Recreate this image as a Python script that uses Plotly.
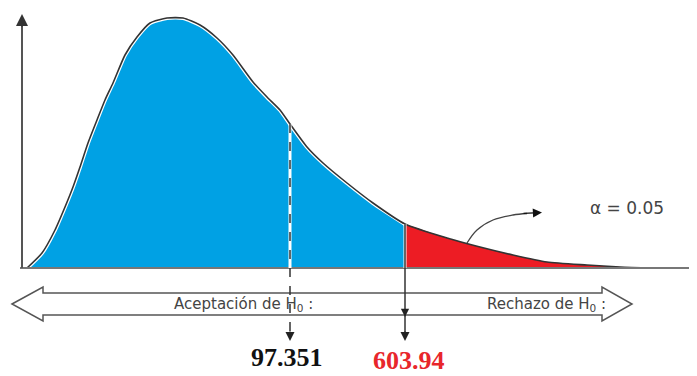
import plotly.graph_objects as go

# Density curve (x, height above baseline)
curve_x = [5, 20, 33, 43, 51, 58, 66, 75, 83, 91, 103, 115, 128, 145, 161, 178, 195,
           211, 231, 245, 258, 268, 285, 301, 325, 351, 383, 425, 458, 491, 525, 565, 598, 631]
curve_y = [0, 15, 38, 61, 81, 101, 125, 148, 168, 185, 213, 231, 245, 250, 250, 243, 230,
           213, 186, 171, 158, 144, 121, 105, 85, 65, 44, 30, 21, 13, 6, 3, 1, 0]

crit_x = [268, 383]
crit_top = [144, 44]
crit_labels = ["97.351", "603.94"]
alpha_label = "α = 0.05"
accept_label = "Aceptación de H<sub>0</sub> :"
reject_label = "Rechazo de H<sub>0</sub> :"

# curved pointer to the alpha label
ptr_x = [445, 455, 471, 491, 505]
ptr_y = [25, 38, 48, 53, 54.5]

BLUE = "#00A1E4"
RED = "#ED1C24"
LINE = "#333333"

cut = crit_x[1]
bx = [x for x in curve_x if x <= cut]
by = [y for x, y in zip(curve_x, curve_y) if x <= cut]
rx = [x for x in curve_x if x >= cut]
ry = [y for x, y in zip(curve_x, curve_y) if x >= cut]

fig = go.Figure()
fig.add_trace(go.Scatter(x=bx, y=by, fill="tozeroy", fillcolor=BLUE, mode="lines",
                         line=dict(color="white", width=4, shape="spline", smoothing=0.6),
                         hoverinfo="skip"))
fig.add_trace(go.Scatter(x=rx, y=ry, fill="tozeroy", fillcolor=RED, mode="lines",
                         line=dict(color="white", width=0, shape="spline", smoothing=0.6),
                         hoverinfo="skip"))
fig.add_trace(go.Scatter(x=curve_x, y=curve_y, mode="lines",
                         line=dict(color=LINE, width=1.6, shape="spline", smoothing=0.6),
                         hoverinfo="skip"))
fig.add_trace(go.Scatter(x=ptr_x, y=ptr_y, mode="lines",
                         line=dict(color="#444", width=1.3, shape="spline"), hoverinfo="skip"))

shapes = []
# baseline and vertical axis
shapes.append(dict(type="line", x0=-2, x1=675, y0=0, y1=0, line=dict(color="#777", width=2)))
shapes.append(dict(type="line", x0=0, x1=0, y0=0, y1=252, line=dict(color="#555", width=2)))
# double block arrow
path = ("M -10,-36 L 21,-19 L 21,-25 L 580,-25 L 580,-19 L 610,-36 "
        "L 580,-53 L 580,-47 L 21,-47 L 21,-53 Z")
shapes.append(dict(type="path", path=path, fillcolor="white",
                   line=dict(color="#555", width=1.5), layer="above"))
# dashed line at first critical value
shapes.append(dict(type="line", x0=crit_x[0], x1=crit_x[0], y0=crit_top[0], y1=0,
                   line=dict(color="white", width=3), layer="above"))
shapes.append(dict(type="line", x0=crit_x[0], x1=crit_x[0], y0=crit_top[0], y1=-68,
                   line=dict(color="#333", width=1.5, dash="dash"), layer="above"))
# solid line at second critical value
shapes.append(dict(type="line", x0=crit_x[1], x1=crit_x[1], y0=crit_top[1], y1=0,
                   line=dict(color="white", width=3), layer="above"))
shapes.append(dict(type="line", x0=crit_x[1], x1=crit_x[1], y0=crit_top[1], y1=-68,
                   line=dict(color="#333", width=1.5), layer="above"))

annotations = []
# arrowheads
annotations.append(dict(x=0, y=254, ax=0, ay=240, xref="x", yref="y", axref="x", ayref="y",
                         text="", showarrow=True, arrowhead=2, arrowsize=1.2, arrowwidth=2,
                         arrowcolor="#333"))
for cx in crit_x:
    annotations.append(dict(x=cx, y=-73, ax=cx, ay=-62, xref="x", yref="y", axref="x", ayref="y",
                             text="", showarrow=True, arrowhead=2, arrowsize=1.2, arrowwidth=1.5,
                             arrowcolor="#222"))
annotations.append(dict(x=crit_x[1], y=-49, ax=crit_x[1], ay=-40, xref="x", yref="y", axref="x",
                         ayref="y", text="", showarrow=True, arrowhead=2, arrowsize=1.1,
                         arrowwidth=1.5, arrowcolor="#222"))
annotations.append(dict(x=520, y=55.5, ax=500, ay=54.5, xref="x", yref="y", axref="x", ayref="y",
                         text="", showarrow=True, arrowhead=2, arrowsize=1.4, arrowwidth=1.3,
                         arrowcolor="#111"))
# texts
annotations.append(dict(x=605, y=60, xref="x", yref="y", text=alpha_label, showarrow=False,
                         font=dict(family="DejaVu Sans", size=17, color="#444")))
annotations.append(dict(x=221, y=-36, xref="x", yref="y", text=accept_label, showarrow=False,
                         font=dict(family="DejaVu Sans", size=15, color="#444")))
annotations.append(dict(x=524, y=-36, xref="x", yref="y", text=reject_label, showarrow=False,
                         font=dict(family="DejaVu Sans", size=15, color="#444")))
annotations.append(dict(x=265, y=-89, xref="x", yref="y", text="<b>%s</b>" % crit_labels[0],
                         showarrow=False,
                         font=dict(family="Liberation Serif", size=26, color="#111")))
annotations.append(dict(x=387, y=-92, xref="x", yref="y", text="<b>%s</b>" % crit_labels[1],
                         showarrow=False,
                         font=dict(family="Liberation Serif", size=26, color="#E8262B")))

# the page body has an 8px default margin, so the figure is drawn 8px in and 8px smaller
fig.update_layout(
    width=689, height=368, margin=dict(l=0, r=0, t=0, b=0),
    paper_bgcolor="white", plot_bgcolor="white", showlegend=False,
    xaxis=dict(range=[-14, 675], visible=False, fixedrange=True),
    yaxis=dict(range=[-108, 260], visible=False, fixedrange=True),
    shapes=shapes, annotations=annotations,
)
fig.write_html("out.html")
